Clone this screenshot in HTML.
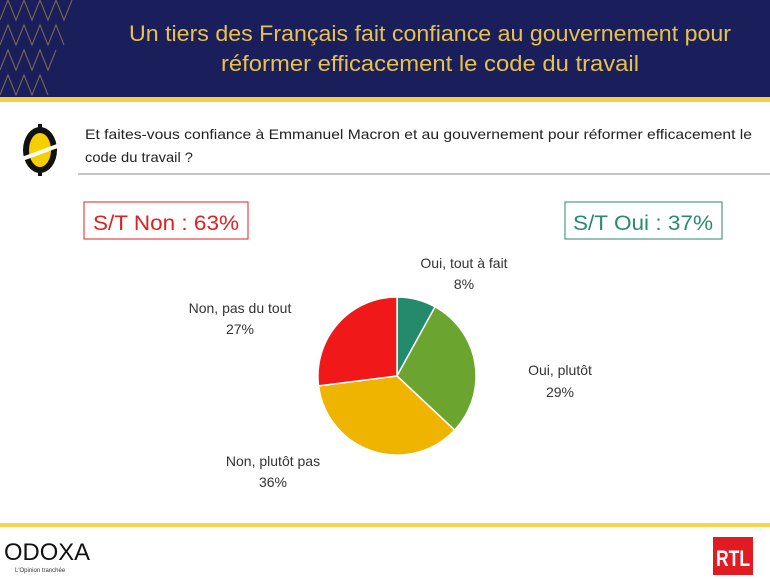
<!DOCTYPE html>
<html><head><meta charset="utf-8"><style>body{margin:0;background:#fff}svg{display:block}</style></head><body>
<svg width="770" height="579" xmlns="http://www.w3.org/2000/svg" font-family="Liberation Sans, sans-serif">
<rect x="0" y="0" width="770" height="98" fill="#1a1f5c"/>
<g stroke="#c9a640" stroke-width="1" opacity="0.6" fill="none">
<path d="M0 20 L8 0 L16 20 L24 0 L32 20 L40 0 L48 20 L56 0 L64 20 L72 0"/>
<path d="M0 45 L8 25 L16 45 L24 25 L32 45 L40 25 L48 45 L56 25 L64 45"/>
<path d="M0 70 L8 50 L16 70 L24 50 L32 70 L40 50 L48 70 L56 50"/>
<path d="M0 95 L8 75 L16 95 L24 75 L32 95 L40 75 L48 95"/>
</g>
<rect x="0" y="97" width="770" height="5" fill="#f5cf45"/>
<text x="430" y="41" font-size="22" fill="#e8c14a" text-anchor="middle" textLength="602" lengthAdjust="spacingAndGlyphs">Un tiers des Français fait confiance au gouvernement pour</text>
<text x="430" y="71" font-size="22" fill="#e8c14a" text-anchor="middle" textLength="418" lengthAdjust="spacingAndGlyphs">réformer efficacement le code du travail</text>
<!-- icon -->
<ellipse cx="40" cy="150" rx="17" ry="23" fill="#111"/>
<ellipse cx="40" cy="150" rx="11" ry="17" fill="#f5d000"/>
<rect x="38" y="124" width="4" height="6" fill="#111"/>
<rect x="38" y="170" width="4" height="6" fill="#111"/>
<line x1="22" y1="159" x2="60" y2="145" stroke="#fff" stroke-width="4"/>
<text x="85" y="139" font-size="14" fill="#222" textLength="667" lengthAdjust="spacingAndGlyphs">Et faites-vous confiance à Emmanuel Macron et au gouvernement pour réformer efficacement le</text>
<text x="85" y="162" font-size="14" fill="#222" textLength="108" lengthAdjust="spacingAndGlyphs">code du travail ?</text>
<line x1="78" y1="174" x2="770" y2="174" stroke="#888" stroke-width="1"/>
<rect x="84" y="202" width="164" height="37" fill="#fff" stroke="#e02020" stroke-width="1"/>
<text x="166" y="230" font-size="21" fill="#e02020" text-anchor="middle" textLength="146" lengthAdjust="spacingAndGlyphs">S/T Non : 63%</text>
<rect x="565" y="202" width="157" height="37" fill="#fff" stroke="#2a8a6e" stroke-width="1"/>
<text x="643" y="230" font-size="21" fill="#2a8a6e" text-anchor="middle" textLength="140" lengthAdjust="spacingAndGlyphs">S/T Oui : 37%</text>
<g stroke="#fff" stroke-width="1.5">
<path d="M397 376 L397 297 A79 79 0 0 1 435.1 306.8 Z" fill="#248a6c"/>
<path d="M397 376 L435.1 306.8 A79 79 0 0 1 454.6 430.1 Z" fill="#6ba42e"/>
<path d="M397 376 L454.6 430.1 A79 79 0 0 1 318.6 385.9 Z" fill="#efb400"/>
<path d="M397 376 L318.6 385.9 A79 79 0 0 1 397 297 Z" fill="#f01818"/>
</g>
<g font-size="14" fill="#333" text-anchor="middle">
<text x="464" y="268">Oui, tout à fait</text><text x="464" y="289">8%</text>
<text x="560" y="375">Oui, plutôt</text><text x="560" y="397">29%</text>
<text x="273" y="466">Non, plutôt pas</text><text x="273" y="487">36%</text>
<text x="240" y="313">Non, pas du tout</text><text x="240" y="334">27%</text>
</g>
<rect x="0" y="523" width="770" height="4" fill="#f5d54a"/>
<text x="4" y="560" font-size="24" fill="#111" textLength="86" lengthAdjust="spacingAndGlyphs">ODOXA</text>
<text x="15" y="572" font-size="6" fill="#333">L'Opinion tranchée</text>
<rect x="713" y="537" width="40" height="38" fill="#e21b22"/>
<text x="733" y="566" font-size="22" font-weight="bold" fill="#fff" text-anchor="middle" textLength="34" lengthAdjust="spacingAndGlyphs">RTL</text>
</svg>
</body></html>
